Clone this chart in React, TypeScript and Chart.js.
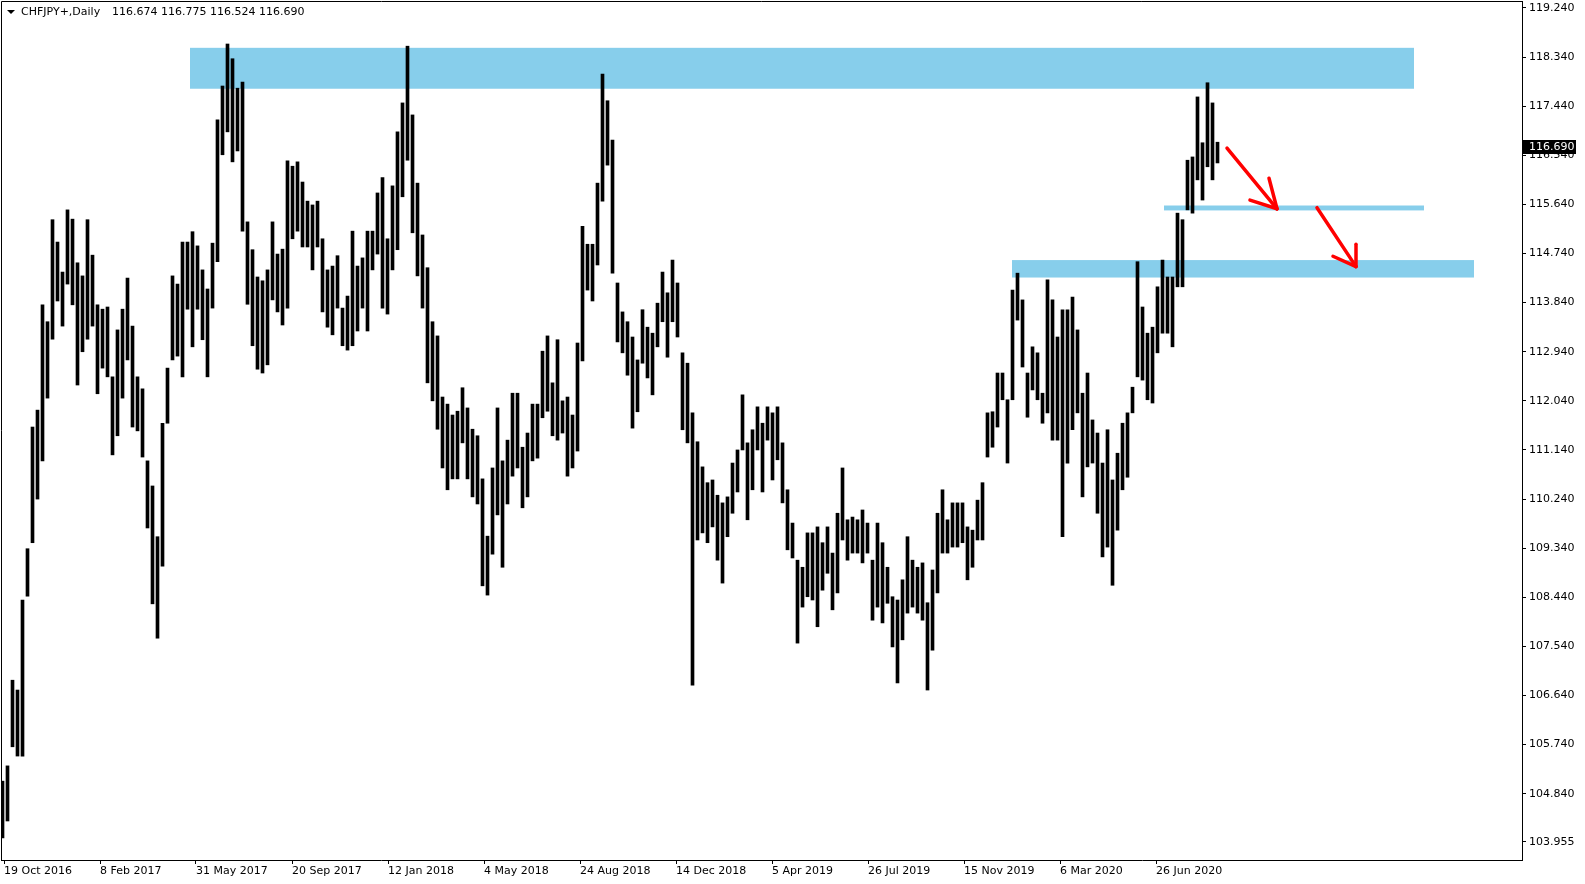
import React, { useEffect, useRef } from 'react';
import { Chart, registerables } from 'chart.js';

Chart.register(...registerables);

// ---- header text ----
const SYMBOL_TITLE = 'CHFJPY+,Daily';
const LAST_OHLC = ['116.674', '116.775', '116.524', '116.690'];
const LAST_PRICE = 116.69;

// ---- time axis (1 bar per day, 96 bars between labels) ----
const DATE_LABELS = ['19 Oct 2016', '8 Feb 2017', '31 May 2017', '20 Sep 2017', '12 Jan 2018', '4 May 2018', '24 Aug 2018', '14 Dec 2018', '5 Apr 2019', '26 Jul 2019', '15 Nov 2019', '6 Mar 2020', '26 Jun 2020'];
const DATE_DAYS = [0, 96, 192, 288, 384, 480, 576, 672, 768, 864, 960, 1056, 1152];
const DAY_MIN = -3;
const DAY_MAX = 1518;

// ---- price axis ----
const PRICE_TICKS = [119.24, 118.34, 117.44, 116.54, 115.64, 114.74, 113.84, 112.94, 112.04, 111.14, 110.24, 109.34, 108.44, 107.54, 106.64, 105.74, 104.84, 103.955];
const PRICE_MIN = 103.625;
const PRICE_MAX = 119.368;

// ---- price series: high / low of each 5-day block ----
const BUCKET_DAYS = 5;
const BUCKET_START = -1.5;
const HIGHS = [
  105.07, 105.35, 106.92, 106.74, 108.39, 109.33, 111.56, 111.87, 113.80, 113.49,
  115.36, 114.95, 114.40, 115.54, 115.37, 114.57, 114.33, 115.36, 114.71, 113.80,
  113.72, 113.76, 112.48, 113.34, 113.72, 114.29, 113.41, 112.48, 112.26, 110.94,
  110.48, 109.55, 111.63, 112.64, 114.33, 114.18, 114.95, 114.95, 115.14, 114.88,
  114.44, 114.09, 114.93, 117.19, 117.81, 118.58, 118.31, 117.77, 117.88, 115.32,
  114.81, 114.31, 114.24, 114.44, 115.32, 114.73, 114.82, 116.44, 116.34, 116.42,
  116.05, 115.70, 115.63, 115.70, 115.01, 114.44, 114.51, 114.70, 113.74, 113.96,
  115.15, 114.51, 114.66, 115.15, 115.15, 115.85, 116.13, 115.01, 115.98, 116.97,
  117.50, 118.54, 117.28, 116.03, 115.08, 114.48, 113.49, 113.23, 112.11, 111.98,
  111.78, 111.85, 112.28, 111.91, 111.52, 111.40, 110.61, 109.56, 110.81, 111.91,
  110.94, 111.32, 112.18, 112.18, 111.19, 111.45, 111.98, 111.98, 112.95, 113.23,
  112.37, 113.16, 112.04, 112.11, 111.78, 113.10, 115.24, 114.91, 114.91, 116.03,
  118.03, 117.54, 116.82, 114.20, 113.67, 113.49, 113.21, 112.79, 113.71, 113.39,
  113.28, 113.83, 114.40, 114.02, 114.62, 114.20, 112.92, 112.73, 111.82, 111.29,
  110.83, 110.54, 110.59, 110.31, 110.17, 110.28, 110.90, 111.14, 112.15, 111.27,
  111.51, 111.93, 111.63, 111.93, 111.82, 111.93, 111.27, 110.41, 109.80, 109.12,
  108.99, 109.62, 109.62, 109.73, 109.44, 109.73, 109.25, 109.98, 110.81, 109.86,
  109.91, 109.86, 110.04, 109.80, 109.12, 109.80, 109.44, 108.99, 108.45, 108.39,
  108.76, 109.55, 109.12, 108.99, 109.07, 108.34, 108.94, 109.98, 110.41, 109.86,
  110.17, 110.17, 110.17, 109.73, 109.67, 110.22, 110.54, 111.82, 111.84, 112.55,
  112.55, 112.06, 114.07, 114.38, 113.89, 112.55, 113.03, 112.92, 112.18, 114.26,
  113.89, 113.21, 113.71, 113.71, 113.94, 113.34, 112.18, 112.55, 111.69, 111.45,
  110.90, 111.51, 110.59, 111.08, 111.63, 111.82, 112.29, 114.59, 113.76, 113.28,
  113.39, 114.13, 114.62, 114.31, 114.31, 115.48, 115.36, 116.45, 116.51, 117.61,
  116.77, 117.87, 117.50, 116.78,
];
const LOWS = [
  104.03, 104.34, 105.70, 105.53, 105.53, 108.46, 109.44, 110.24, 110.94, 112.09,
  113.17, 113.87, 113.41, 114.18, 113.80, 112.33, 112.94, 113.17, 113.41, 112.17,
  112.64, 112.48, 111.05, 111.40, 112.09, 112.79, 111.56, 111.49, 111.01, 109.71,
  108.32, 107.69, 109.01, 111.63, 112.79, 112.86, 112.48, 113.72, 113.03, 113.72,
  113.16, 112.48, 113.74, 114.59, 116.55, 116.97, 116.42, 116.62, 115.15, 113.81,
  113.05, 112.62, 112.55, 112.70, 113.89, 113.67, 113.43, 113.74, 115.01, 115.15,
  114.86, 114.86, 114.44, 114.86, 113.67, 113.39, 113.25, 113.74, 113.05, 112.97,
  113.05, 113.32, 113.74, 113.32, 114.44, 114.73, 113.74, 113.63, 114.44, 114.81,
  115.78, 116.45, 115.12, 114.33, 113.74, 112.37, 112.04, 111.52, 110.81, 110.41,
  110.61, 110.61, 111.27, 110.61, 110.28, 110.15, 108.65, 108.48, 109.23, 109.95,
  108.99, 110.15, 110.66, 110.81, 110.08, 110.28, 110.94, 110.99, 111.73, 111.85,
  111.40, 111.32, 111.45, 110.66, 110.81, 111.12, 112.77, 114.07, 113.87, 114.53,
  115.70, 116.36, 114.38, 113.12, 112.92, 112.51, 111.54, 111.84, 112.73, 112.46,
  112.15, 113.03, 113.49, 112.84, 113.49, 113.21, 111.51, 111.27, 106.83, 109.49,
  109.62, 109.44, 109.73, 109.12, 108.70, 109.55, 109.98, 110.37, 111.14, 109.86,
  110.41, 111.14, 110.37, 111.32, 110.59, 110.96, 110.17, 109.31, 109.16, 107.60,
  108.26, 108.45, 108.39, 107.90, 108.57, 108.88, 108.21, 108.52, 109.49, 109.12,
  109.25, 109.25, 109.07, 109.25, 108.02, 108.26, 107.97, 108.33, 107.53, 106.87,
  107.66, 108.15, 108.26, 108.15, 108.02, 106.74, 107.47, 108.52, 109.25, 109.25,
  109.36, 109.36, 109.44, 108.76, 108.99, 109.49, 109.49, 111.01, 111.19, 111.56,
  112.06, 110.90, 112.06, 113.52, 112.66, 111.74, 112.24, 112.06, 111.63, 111.82,
  111.32, 111.32, 109.55, 110.90, 111.51, 111.82, 110.28, 110.83, 110.90, 109.98,
  109.18, 109.36, 108.66, 109.67, 110.41, 110.64, 111.82, 112.48, 112.42, 112.06,
  112.00, 112.92, 113.28, 113.28, 113.03, 114.13, 114.13, 115.54, 115.48, 116.09,
  115.72, 116.33, 116.09, 116.40,
];

// ---- drawn annotations (day index, price) ----
const ZONE_FROM = [186, 1160, 1008];
const ZONE_TO = [1410, 1420, 1470];
const ZONE_TOP = [118.51, 115.62, 114.62];
const ZONE_BOTTOM = [117.76, 115.53, 114.30];
const ARROW_TAIL = [[1223, 116.67], [1313, 115.58]];
const ARROW_TIP = [[1273, 115.56], [1352, 114.50]];
const ARROW_WING_A = [[1265, 116.12], [1352, 114.91]];
const ARROW_WING_B = [[1246, 115.72], [1329, 114.69]];

const FONT = '"DejaVu Sans"';

const overlayPlugin = {
  id: 'mt4overlay',
  beforeDatasetsDraw(chart: any) {
    const { ctx, chartArea, scales } = chart;
    const x = scales.x, y = scales.y;
    ctx.save();
    ctx.beginPath();
    ctx.rect(chartArea.left, chartArea.top, chartArea.right - chartArea.left, chartArea.bottom - chartArea.top);
    ctx.clip();
    ctx.fillStyle = '#87CEEB';
    for (let i = 0; i < ZONE_FROM.length; i++) {
      const x0 = x.getPixelForValue(ZONE_FROM[i]);
      const x1 = x.getPixelForValue(ZONE_TO[i]);
      const y0 = y.getPixelForValue(ZONE_TOP[i]);
      const y1 = y.getPixelForValue(ZONE_BOTTOM[i]);
      ctx.fillRect(x0, y0, x1 - x0, y1 - y0);
    }
    ctx.restore();
  },
  afterDraw(chart: any) {
    const { ctx, chartArea, scales } = chart;
    const x = scales.x, y = scales.y;
    ctx.save();
    // frame (top and left edges)
    ctx.strokeStyle = '#000';
    ctx.lineWidth = 1;
    ctx.beginPath();
    ctx.moveTo(chartArea.left + 0.5, chartArea.bottom);
    ctx.lineTo(chartArea.left + 0.5, chartArea.top + 0.5);
    ctx.lineTo(chartArea.right, chartArea.top + 0.5);
    ctx.stroke();

    // arrows
    ctx.strokeStyle = '#FF0000';
    ctx.lineWidth = 3.5;
    ctx.lineCap = 'round';
    for (let i = 0; i < ARROW_TIP.length; i++) {
      const tip = [x.getPixelForValue(ARROW_TIP[i][0]), y.getPixelForValue(ARROW_TIP[i][1])];
      const pts = [ARROW_TAIL[i], ARROW_WING_A[i], ARROW_WING_B[i]];
      for (const p of pts) {
        ctx.beginPath();
        ctx.moveTo(x.getPixelForValue(p[0]), y.getPixelForValue(p[1]));
        ctx.lineTo(tip[0], tip[1]);
        ctx.stroke();
      }
    }

    // header
    ctx.fillStyle = '#000';
    ctx.beginPath();
    ctx.moveTo(7, 10);
    ctx.lineTo(15, 10);
    ctx.lineTo(11, 14);
    ctx.closePath();
    ctx.fill();
    ctx.font = '11px ' + FONT;
    ctx.textBaseline = 'middle';
    ctx.textAlign = 'left';
    ctx.fillText(SYMBOL_TITLE, 21, 12.5);
    ctx.fillText(LAST_OHLC.join(' '), 112, 12.5);

    // last price marker
    const py = Math.round(y.getPixelForValue(LAST_PRICE));
    ctx.fillStyle = '#000';
    ctx.fillRect(chartArea.right + 1, py - 7, 53, 14);
    ctx.fillStyle = '#fff';
    ctx.fillText(LAST_PRICE.toFixed(3), chartArea.right + 7, py + 0.5);
    ctx.restore();
  },
};

export default function App() {
  const ref = useRef<HTMLCanvasElement | null>(null);
  useEffect(() => {
    document.body.style.margin = '0';
    Chart.defaults.font.family = FONT;
    Chart.defaults.font.size = 11;
    Chart.defaults.color = '#000';
    const data = HIGHS.map((h, i) => ({ x: BUCKET_START + i * BUCKET_DAYS, y: [LOWS[i], h] }));
    const chart = new Chart(ref.current as HTMLCanvasElement, {
      type: 'bar',
      data: {
        datasets: [
          {
            data: data as any,
            backgroundColor: '#000',
            borderWidth: 0,
            borderSkipped: false,
            barThickness: 3,
          } as any,
        ],
      },
      plugins: [overlayPlugin],
      options: {
        animation: false,
        responsive: false,
        devicePixelRatio: 1,
        layout: { padding: { left: 1, top: 1, right: 0, bottom: 0 } },
        plugins: { legend: { display: false }, tooltip: { enabled: false } },
        scales: {
          x: {
            type: 'linear',
            min: DAY_MIN,
            max: DAY_MAX,
            offset: false,
            afterBuildTicks: (s: any) => {
              s.ticks = DATE_DAYS.map((v) => ({ value: v }));
            },
            afterFit: (s: any) => {
              s.height = 24;
              s.paddingLeft = 0;
              s.paddingRight = 0;
              s.paddingTop = 0;
              s.paddingBottom = 0;
            },
            ticks: {
              autoSkip: false,
              maxRotation: 0,
              minRotation: 0,
              align: 'start',
              padding: 1,
              font: { size: 11, family: FONT },
              color: '#000',
              callback: (_v: any, i: number) => DATE_LABELS[i],
            },
            grid: { display: true, drawOnChartArea: false, drawTicks: true, tickLength: 4, color: '#000', offset: false },
            border: { display: true, color: '#000', width: 1 },
          },
          y: {
            type: 'linear',
            position: 'right',
            min: PRICE_MIN,
            max: PRICE_MAX,
            afterBuildTicks: (s: any) => {
              s.ticks = PRICE_TICKS.map((v) => ({ value: v }));
            },
            afterFit: (s: any) => {
              s.width = 63;
              s.paddingLeft = 0;
              s.paddingRight = 0;
              s.paddingTop = 0;
              s.paddingBottom = 0;
            },
            ticks: {
              autoSkip: false,
              padding: 3,
              font: { size: 11, family: FONT },
              color: '#000',
              callback: (v: any) => Number(v).toFixed(3),
            },
            grid: { display: true, drawOnChartArea: false, drawTicks: true, tickLength: 4, color: '#000' },
            border: { display: true, color: '#000', width: 1 },
          },
        },
      } as any,
    });
    return () => chart.destroy();
  }, []);
  return (
    <div style={{ position: 'relative', width: 1585, height: 884, background: '#fff' }}>
      <canvas ref={ref} width={1585} height={884} style={{ display: 'block' }} />
    </div>
  );
}
